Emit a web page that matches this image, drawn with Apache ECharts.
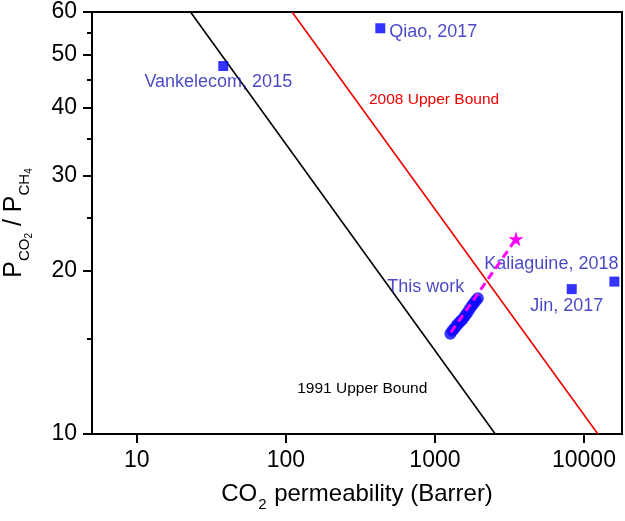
<!DOCTYPE html>
<html><head><meta charset="utf-8">
<script src="https://cdn.jsdelivr.net/npm/echarts@6/dist/echarts.min.js"></script>
<style>html,body{margin:0;padding:0;background:#fff}#c{width:625px;height:521px}</style>
</head><body><div id="c"></div>
<script>
// ---- data ----
const xTickValues = [10, 100, 1000, 10000];
const yTickValues = [10, 20, 30, 40, 50, 60];
const yMinorTickValues = [15, 25, 35, 45, 55];
const xRange = [5, 18000];
const yRange = [10, 60];
const bound1991Perm = [22.9, 2540];
const bound1991Sel = [60, 10];
const bound2008Perm = [110, 12400];
const bound2008Sel = [60, 10];
const litNames = ['Vankelecom, 2015', 'Qiao, 2017', 'Jin, 2017', 'Kaliaguine, 2018'];
const litPerm = [38, 430, 8280, 16000];
const litSel = [47.7, 56, 18.5, 19.1];
const thisWorkPerm = [1270, 1310, 1350, 1400, 1440, 1490, 1540, 1590, 1640, 1700, 1760, 1820, 1880, 1940];
const thisWorkSel = [15.3, 15.5, 15.65, 15.85, 16.0, 16.15, 16.3, 16.5, 16.7, 16.95, 17.2, 17.4, 17.6, 17.8];
const trendPerm = [1280, 3500];
const trendSel = [15.4, 22.9];

// ---- layout / style ----
const L = Math.log10;
const FONT = '"Liberation Sans", Arial, sans-serif';
const BLUE_TEXT = '#1a1ab8';
const litLabelOffsets = {
  'Vankelecom, 2015': [-5, 16],
  'Qiao, 2017': [53, 4],
  'Jin, 2017': [-5, 17],
  'Kaliaguine, 2018': [-63, -18]
};
const starPath = 'path://M50,0 L61,35 L98,35 L68,57 L79,91 L50,70 L21,91 L32,57 L2,35 L39,35 Z';
const fmt = v => String(Math.round(Math.pow(10, v)));

const pair = (xs, ys) => xs.map((x, i) => [L(x), L(ys[i])]);

const chart = echarts.init(document.getElementById('c'), null, {renderer: 'canvas'});
const option = {
  animation: false,
  backgroundColor: '#fff',
  textStyle: {fontFamily: FONT},
  grid: {left: 92, right: 3, top: 12, bottom: 87, show: true, borderColor: '#000', borderWidth: 2,
         containLabel: false, outerBoundsMode: 'none'},
  xAxis: {
    type: 'value', min: L(xRange[0]), max: L(xRange[1]),
    axisLine: {onZero: false, lineStyle: {color: '#000', width: 2}},
    axisTick: {customValues: xTickValues.map(L), length: 9, lineStyle: {color: '#000', width: 2}},
    axisLabel: {customValues: xTickValues.map(L), formatter: fmt, fontSize: 23, color: '#000', margin: 15, fontFamily: FONT},
    splitLine: {show: false},
    name: '{n|CO}{s|2}{n| permeability (Barrer)}',
    nameLocation: 'middle', nameGap: 48,
    nameTextStyle: {fontFamily: FONT, color: '#000', rich: {
      n: {fontSize: 24, fontFamily: FONT, color: '#000', verticalAlign: 'bottom', padding: [0, 0, 6, 0]},
      s: {fontSize: 15, fontFamily: FONT, color: '#000', verticalAlign: 'bottom', padding: [0, 1, 0, 1]}
    }}
  },
  yAxis: [{
    type: 'value', min: L(yRange[0]), max: L(yRange[1]),
    axisLine: {lineStyle: {color: '#000', width: 2}},
    axisTick: {customValues: yTickValues.map(L), length: 9, lineStyle: {color: '#000', width: 2}},
    axisLabel: {customValues: yTickValues.map(L), formatter: fmt, fontSize: 23, color: '#000', margin: 15, fontFamily: FONT},
    splitLine: {show: false},
    name: '{p|P}{s|CO}{ss|2}{p| / P}{s|CH}{ss|4}',
    nameLocation: 'middle', nameRotate: 90, nameGap: 58,
    nameTextStyle: {fontFamily: FONT, color: '#000', rich: {
      p: {fontSize: 25, fontFamily: FONT, color: '#000', verticalAlign: 'bottom', padding: [0, 0, 7, 0]},
      s: {fontSize: 15, fontFamily: FONT, color: '#000', verticalAlign: 'bottom', padding: [0, 0, 2, 0]},
      ss: {fontSize: 10, fontFamily: FONT, color: '#000', verticalAlign: 'bottom', padding: [0, 0, 0, 0]}
    }}
  }, {
    type: 'value', min: L(yRange[0]), max: L(yRange[1]), position: 'left', offset: 0,
    axisLine: {show: false},
    axisTick: {customValues: yMinorTickValues.map(L), length: 5, lineStyle: {color: '#000', width: 2}},
    axisLabel: {show: false},
    splitLine: {show: false}
  }],
  series: [
    {
      type: 'line', data: pair(bound1991Perm, bound1991Sel), symbol: 'none',
      lineStyle: {color: '#000', width: 1.6}, z: 2,
      markPoint: {symbol: 'circle', symbolSize: 1, itemStyle: {color: 'rgba(0,0,0,0)'}, data: [{
        coord: [L(bound1991Perm[1]), L(bound1991Sel[1])],
        label: {show: true, formatter: '1991 Upper Bound', offset: [-133, -45], color: '#000', fontSize: 15.5, fontFamily: FONT}
      }]}
    },
    {
      type: 'line', data: pair(bound2008Perm, bound2008Sel), symbol: 'none',
      lineStyle: {color: '#ee0000', width: 1.6}, z: 2,
      markPoint: {symbol: 'circle', symbolSize: 1, itemStyle: {color: 'rgba(0,0,0,0)'}, data: [{
        coord: [L(bound2008Perm[0]), L(bound2008Sel[0])],
        label: {show: true, formatter: '2008 Upper Bound', offset: [142, 88], color: '#ee0000', fontSize: 15.5, fontFamily: FONT}
      }]}
    },
    {
      type: 'scatter', symbol: 'rect', symbolSize: 10, z: 3,
      itemStyle: {color: '#0000ff'},
      data: litNames.map((n, i) => ({
        name: n, value: [L(litPerm[i]), L(litSel[i])],
        label: {show: true, position: 'inside', formatter: n, offset: litLabelOffsets[n],
                color: BLUE_TEXT, fontSize: 18, fontFamily: FONT}
      }))
    },
    {
      type: 'scatter', symbol: 'circle', symbolSize: 12, z: 4,
      itemStyle: {color: '#0a0aff'},
      data: thisWorkPerm.map((p, i) => {
        const d = {value: [L(p), L(thisWorkSel[i])]};
        if (i === thisWorkPerm.length - 1) {
          d.label = {show: true, position: 'inside', formatter: 'This work', offset: [-52, -11],
                     color: BLUE_TEXT, fontSize: 18, fontFamily: FONT};
        }
        return d;
      })
    },
    {
      type: 'line', z: 5,
      lineStyle: {color: '#ff00ff', width: 3, type: [8, 5]},
      itemStyle: {color: '#ff00ff'},
      showSymbol: true,
      data: trendPerm.map((p, i) => (i === trendPerm.length - 1
        ? {value: [L(p), L(trendSel[i])], symbol: starPath, symbolSize: 15}
        : {value: [L(p), L(trendSel[i])], symbol: 'none'}))
    }
  ]
};
chart.setOption(option);
</script>
</body></html>
